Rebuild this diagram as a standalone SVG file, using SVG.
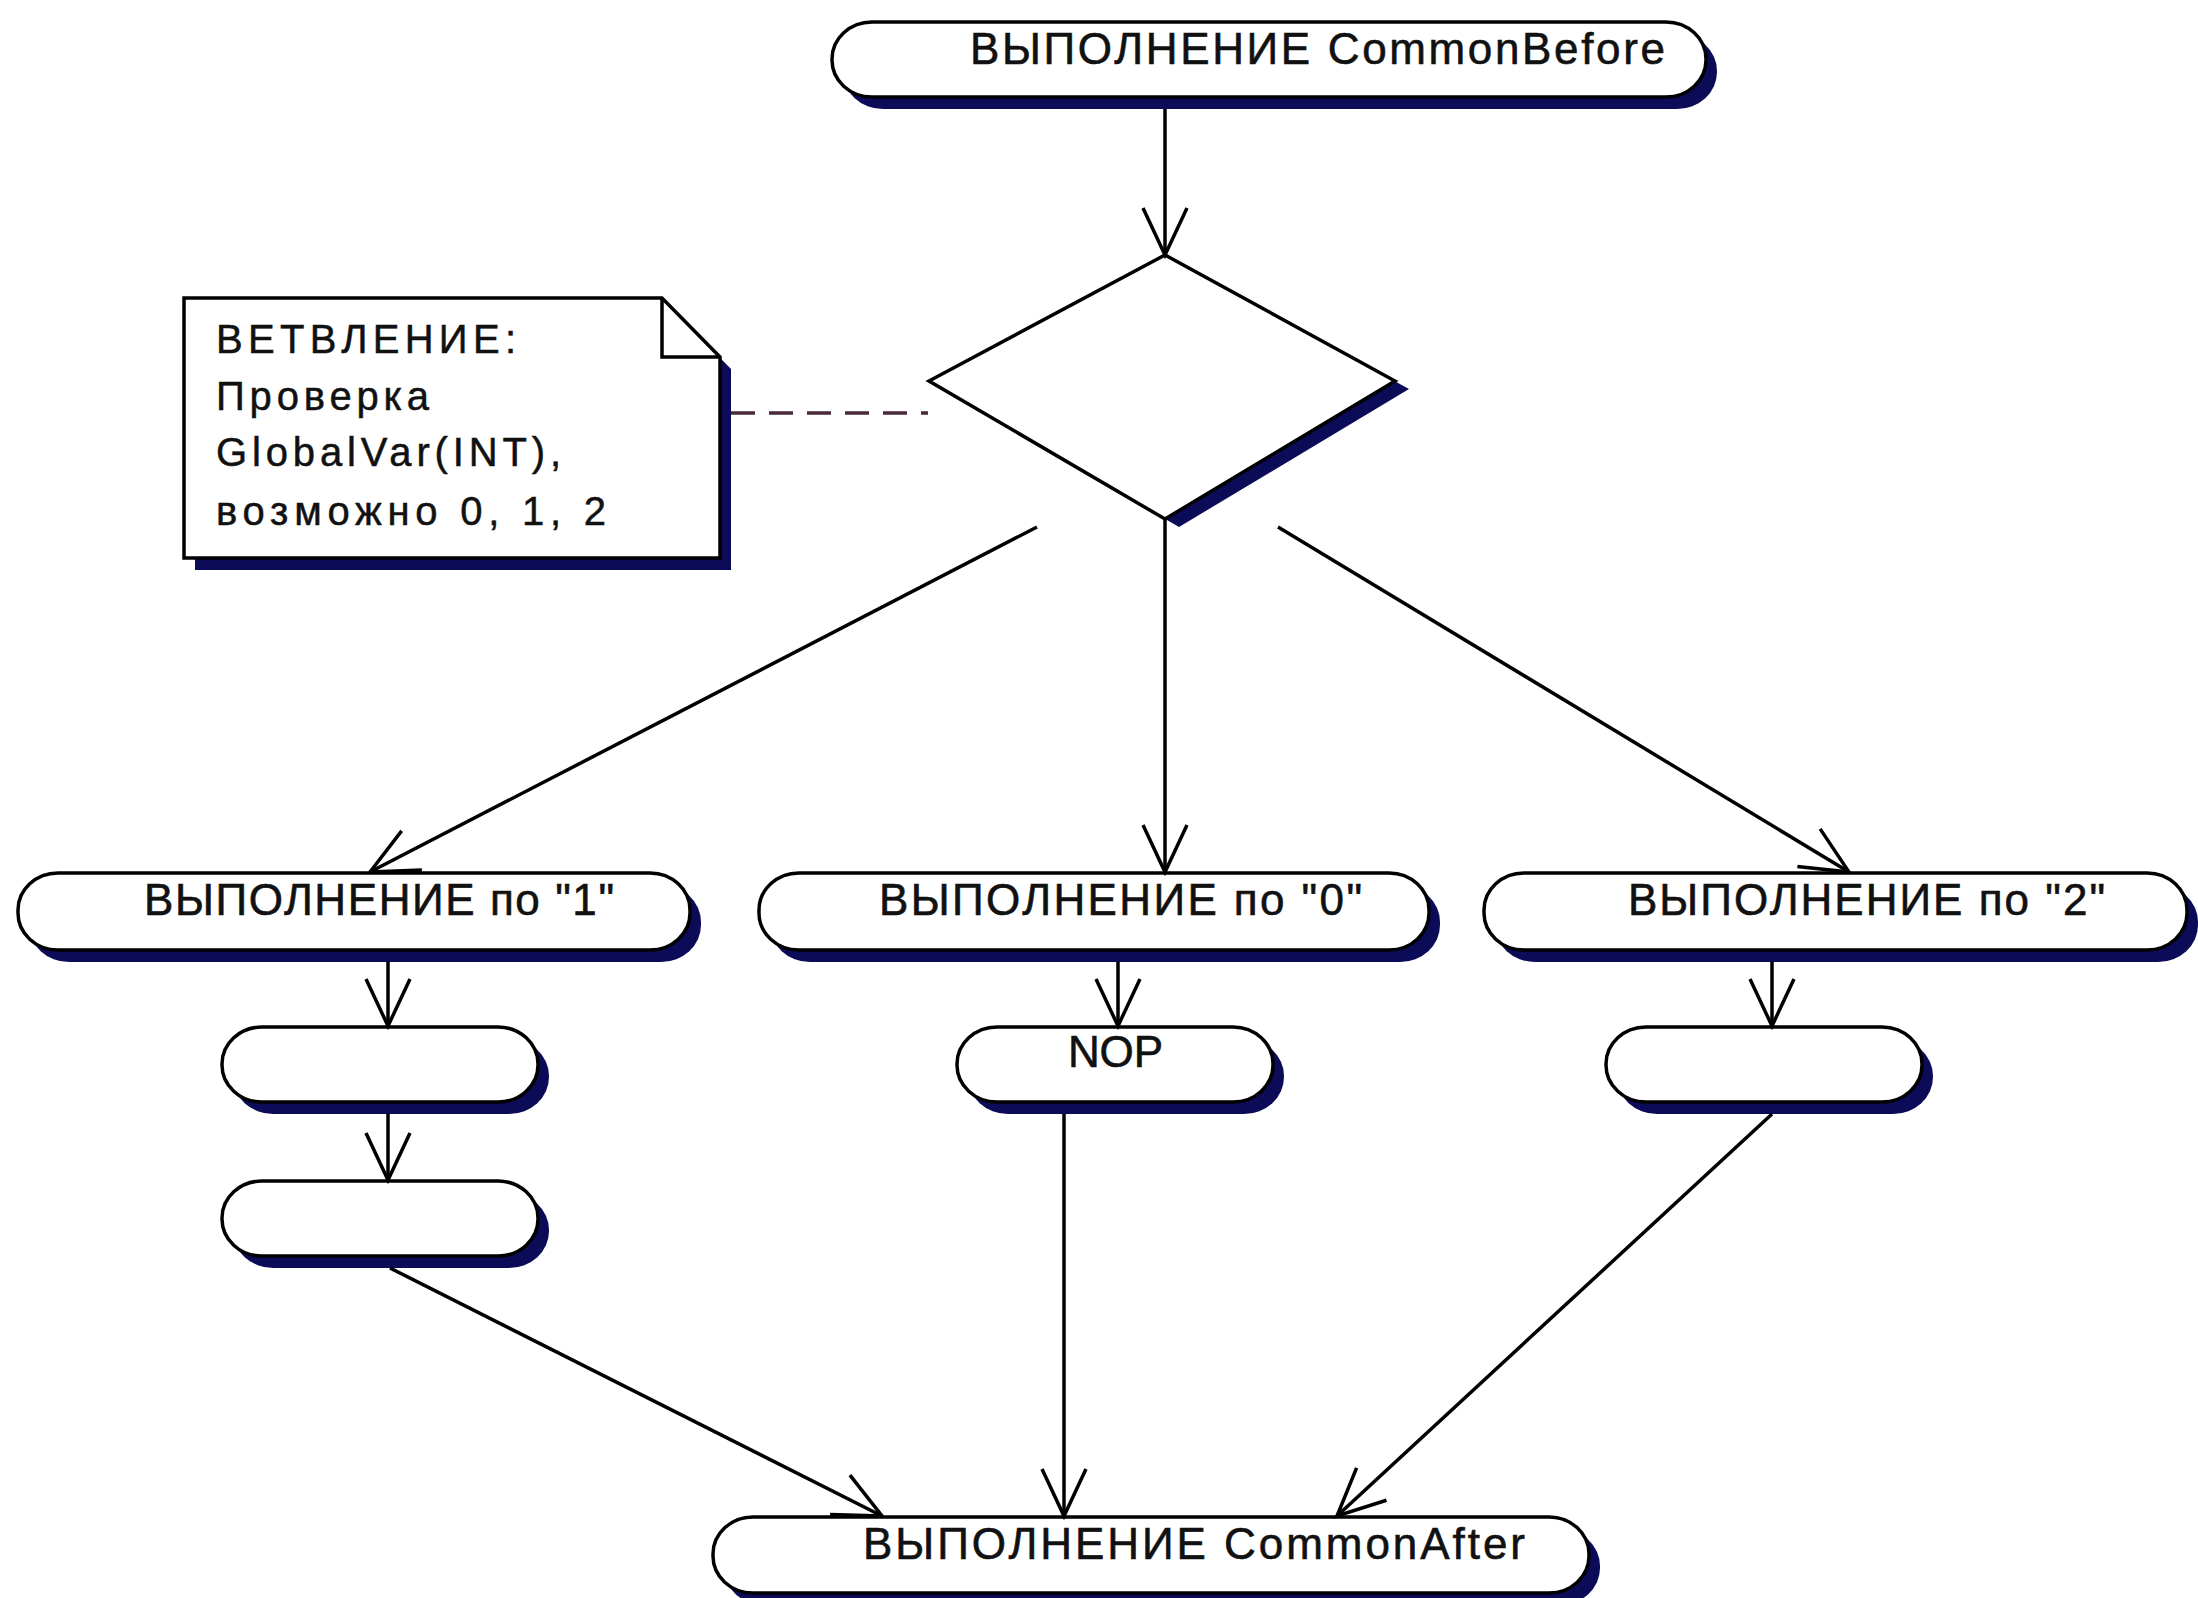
<svg xmlns="http://www.w3.org/2000/svg" width="2198" height="1598" viewBox="0 0 2198 1598">
  <defs>
    <style>
      .shadow { fill: #0b0b58; stroke: none; }
      .shape { fill: #ffffff; stroke: #000000; stroke-width: 3.5; }
      .label { font-family: "Liberation Sans", Arial, sans-serif; font-size: 44px; fill: #111111; stroke: #111111; stroke-width: 0.6; }
      .note-text { font-family: "Liberation Sans", Arial, sans-serif; font-size: 40px; fill: #111111; stroke: #111111; stroke-width: 0.5; }
      .flow { fill: none; stroke: #000000; stroke-width: 3.5; marker-end: url(#open-arrow); }
      .anchor { fill: none; stroke: #4a2a3c; stroke-width: 3.5; stroke-dasharray: 24 14; }
    </style>
    <marker id="open-arrow" markerUnits="userSpaceOnUse" viewBox="-50 -25 52 50" markerWidth="52" markerHeight="50" refX="0" refY="0" orient="auto" overflow="visible">
      <path d="M -47 -22 L 0 0 L -47 22" fill="none" stroke="#000000" stroke-width="3.5" stroke-linejoin="miter"/>
    </marker>
  </defs>

  <rect width="2198" height="1598" fill="#ffffff"/>

  <!-- activity: common part before the branch -->
  <g id="common-before">
    <rect class="shadow" x="843" y="34" width="874" height="75" rx="40" ry="37"/>
    <rect class="shape" x="832" y="22" width="874" height="75" rx="40" ry="37"/>
    <text class="label" x="970" y="64" textLength="695" lengthAdjust="spacing">ВЫПОЛНЕНИЕ CommonBefore</text>
  </g>

  <!-- decision: shadow shifted along the lower-left edge so only the lower-right edge shows it -->
  <g id="decision">
    <polygon class="shadow" points="1179,263 1409,389 1179,527 943,389"/>
    <polygon class="shape" points="1165,255 1395,381 1165,519 929,381"/>
  </g>

  <!-- note attached to the decision -->
  <g id="branch-note">
    <polygon class="shadow" points="195,310 673,310 731,369 731,570 195,570"/>
    <polygon class="shape" points="184,298 662,298 720,357 720,558 184,558"/>
    <polyline points="662,298 662,357 720,357" fill="none" stroke="#000000" stroke-width="3.5"/>
    <text class="note-text" x="216" y="353" textLength="300" lengthAdjust="spacing">ВЕТВЛЕНИЕ:</text>
    <text class="note-text" x="216" y="410" textLength="213" lengthAdjust="spacing">Проверка</text>
    <text class="note-text" x="216" y="466" textLength="345" lengthAdjust="spacing">GlobalVar(INT),</text>
    <text class="note-text" x="216" y="525" textLength="390" lengthAdjust="spacing">возможно 0, 1, 2</text>
  </g>

  <!-- branch activities -->
  <g id="exec-1">
    <rect class="shadow" x="29" y="885" width="672" height="77" rx="40" ry="37"/>
    <rect class="shape" x="18" y="873" width="672" height="77" rx="40" ry="37"/>
    <text class="label" x="144" y="915" textLength="470" lengthAdjust="spacing">ВЫПОЛНЕНИЕ по "1"</text>
  </g>
  <g id="exec-0">
    <rect class="shadow" x="770" y="885" width="670" height="77" rx="40" ry="37"/>
    <rect class="shape" x="759" y="873" width="670" height="77" rx="40" ry="37"/>
    <text class="label" x="879" y="915" textLength="483" lengthAdjust="spacing">ВЫПОЛНЕНИЕ по "0"</text>
  </g>
  <g id="exec-2">
    <rect class="shadow" x="1495" y="885" width="703" height="77" rx="40" ry="37"/>
    <rect class="shape" x="1484" y="873" width="703" height="77" rx="40" ry="37"/>
    <text class="label" x="1628" y="915" textLength="477" lengthAdjust="spacing">ВЫПОЛНЕНИЕ по "2"</text>
  </g>

  <g id="step-1a">
    <rect class="shadow" x="233" y="1039" width="316" height="75" rx="40" ry="37"/>
    <rect class="shape" x="222" y="1027" width="316" height="75" rx="40" ry="37"/>
  </g>
  <g id="step-1b">
    <rect class="shadow" x="233" y="1193" width="316" height="75" rx="40" ry="37"/>
    <rect class="shape" x="222" y="1181" width="316" height="75" rx="40" ry="37"/>
  </g>
  <g id="nop">
    <rect class="shadow" x="968" y="1039" width="316" height="75" rx="40" ry="37"/>
    <rect class="shape" x="957" y="1027" width="316" height="75" rx="40" ry="37"/>
    <text class="label" x="1068" y="1067" textLength="95" lengthAdjust="spacing">NOP</text>
  </g>
  <g id="step-2a">
    <rect class="shadow" x="1617" y="1039" width="316" height="75" rx="40" ry="37"/>
    <rect class="shape" x="1606" y="1027" width="316" height="75" rx="40" ry="37"/>
  </g>

  <!-- activity: common part after the branch -->
  <g id="common-after">
    <rect class="shadow" x="724" y="1529" width="876" height="76" rx="40" ry="37"/>
    <rect class="shape" x="713" y="1517" width="876" height="76" rx="40" ry="37"/>
    <text class="label" x="863" y="1559" textLength="662" lengthAdjust="spacing">ВЫПОЛНЕНИЕ CommonAfter</text>
  </g>

  <!-- connectors -->
  <g id="connectors">
    <line class="anchor" x1="731" y1="413" x2="928" y2="413"/>
    <line class="flow" x1="1165" y1="109" x2="1165" y2="255"/>
    <line class="flow" x1="1037" y1="527" x2="370" y2="872"/>
    <line class="flow" x1="1165" y1="519" x2="1165" y2="872"/>
    <line class="flow" x1="1278" y1="527" x2="1849" y2="872"/>
    <line class="flow" x1="388" y1="962" x2="388" y2="1026"/>
    <line class="flow" x1="388" y1="1114" x2="388" y2="1180"/>
    <line class="flow" x1="1118" y1="962" x2="1118" y2="1026"/>
    <line class="flow" x1="1772" y1="962" x2="1772" y2="1026"/>
    <line class="flow" x1="390" y1="1268" x2="882" y2="1516"/>
    <line class="flow" x1="1064" y1="1114" x2="1064" y2="1516"/>
    <line class="flow" x1="1772" y1="1114" x2="1337" y2="1516"/>
  </g>
</svg>
